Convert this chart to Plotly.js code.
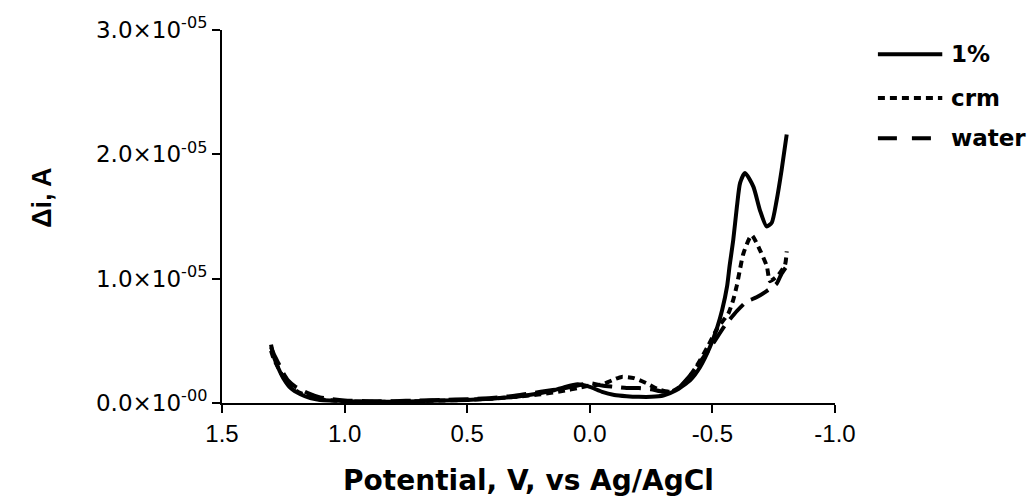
<!DOCTYPE html>
<html>
<head>
<meta charset="utf-8">
<script src="https://cdn.plot.ly/plotly-3.0.1.min.js"></script>
<style>html,body{margin:0;padding:0;background:#fff}#chart{width:1034px;height:497px}</style>
</head>
<body>
<div id="chart"></div>
<script>
// Potential (V vs Ag/AgCl) and current (units of 1e-5 A)
const x1pct = [1.30,1.29,1.27,1.25,1.22,1.18,1.14,1.10,1.05,1.00,0.90,0.80,0.70,0.60,0.50,0.40,0.30,0.20,0.15,0.10,0.05,0.00,-0.05,-0.10,-0.15,-0.20,-0.25,-0.30,-0.35,-0.41,-0.45,-0.49,-0.52,-0.54,-0.56,-0.57,-0.585,-0.60,-0.613,-0.633,-0.667,-0.694,-0.721,-0.742,-0.762,-0.782,-0.803];
const y1pct = [0.47,0.38,0.28,0.20,0.12,0.07,0.04,0.025,0.02,0.015,0.01,0.01,0.015,0.02,0.025,0.035,0.05,0.08,0.10,0.13,0.15,0.13,0.09,0.065,0.055,0.05,0.05,0.06,0.10,0.185,0.29,0.45,0.61,0.75,0.94,1.10,1.31,1.58,1.77,1.85,1.74,1.55,1.42,1.45,1.63,1.87,2.16];

const xCrm = [1.30,1.29,1.27,1.25,1.22,1.18,1.14,1.10,1.05,1.00,0.90,0.80,0.70,0.60,0.50,0.40,0.30,0.20,0.10,0.05,0.00,-0.05,-0.10,-0.13,-0.18,-0.23,-0.28,-0.33,-0.38,-0.43,-0.48,-0.52,-0.565,-0.585,-0.599,-0.612,-0.626,-0.660,-0.694,-0.722,-0.735,-0.769,-0.796,-0.803];
const yCrm = [0.42,0.36,0.28,0.21,0.13,0.08,0.05,0.03,0.02,0.015,0.01,0.01,0.015,0.02,0.025,0.035,0.05,0.07,0.10,0.12,0.14,0.15,0.19,0.21,0.20,0.16,0.11,0.09,0.15,0.28,0.45,0.60,0.72,0.83,0.94,1.07,1.20,1.35,1.23,1.10,0.98,1.03,1.11,1.22];

const xWater = [1.30,1.29,1.27,1.25,1.23,1.20,1.15,1.10,1.05,1.00,0.90,0.80,0.70,0.60,0.50,0.40,0.30,0.20,0.10,0.05,0.00,-0.05,-0.10,-0.15,-0.20,-0.25,-0.30,-0.35,-0.40,-0.45,-0.50,-0.55,-0.60,-0.639,-0.68,-0.721,-0.762,-0.782,-0.803];
const yWater = [0.45,0.40,0.32,0.24,0.18,0.13,0.08,0.045,0.03,0.02,0.015,0.015,0.02,0.025,0.03,0.04,0.06,0.09,0.12,0.14,0.16,0.14,0.13,0.12,0.12,0.11,0.09,0.10,0.20,0.33,0.47,0.62,0.74,0.815,0.85,0.90,0.96,1.04,1.10];

const seriesNames = ["1%", "crm", "water"];
const seriesDash = ["solid", "7px,5px", "20px,9px"];
const legendDash = ["solid", "7px,5px", "19px,15px"];
const yTickVals = [0, 1, 2, 3];
const yTickText = ["0.0×10<sup>-00</sup>", "1.0×10<sup>-05</sup>", "2.0×10<sup>-05</sup>", "3.0×10<sup>-05</sup>"];
const xTickVals = [1.5, 1.0, 0.5, 0.0, -0.5, -1.0];
const xTickText = ["1.5", "1.0", "0.5", "0.0", "-0.5", "-1.0"];
const xTitle = "Potential, V, vs Ag/AgCl";
const yTitle = "Δi, A";

const scale = v => v.map(a => a * 1e-5);
const xs = [x1pct, xCrm, xWater];
const ys = [y1pct, yCrm, yWater];

const traces = seriesNames.map((n, i) => ({
  x: xs[i], y: scale(ys[i]), name: n, mode: "lines", showlegend: false,
  line: {color: "#000", width: 4, dash: seriesDash[i], shape: "spline", smoothing: 0.6}
}));

// manual legend (long line samples as in the reference)
const legY = [0.935, 0.818, 0.71];
const shapes = legY.map((yy, i) => ({
  type: "line", xref: "paper", yref: "paper", x0: 1.070, x1: 1.175, y0: yy, y1: yy,
  line: {color: "#000", width: 4, dash: legendDash[i]}
}));
const annotations = legY.map((yy, i) => ({
  xref: "paper", yref: "paper", x: 1.186, y: yy, xanchor: "left", yanchor: "middle",
  text: seriesNames[i], showarrow: false,
  font: {family: "DejaVu Sans", size: 23, weight: "bold", color: "#000"}
}));
// y-axis title, placed as in the reference (slightly above the plot centre)
annotations.push({
  xref: "paper", yref: "paper", x: 0, xshift: -180, y: 0.55, xanchor: "center", yanchor: "middle",
  textangle: -90, text: yTitle, showarrow: false,
  font: {family: "Liberation Sans", size: 27, weight: "bold", color: "#000"}
});

const layout = {
  width: 1034, height: 497,
  margin: {l: 222, r: 199, t: 30, b: 94},
  paper_bgcolor: "#fff", plot_bgcolor: "#fff",
  font: {family: "Liberation Sans, Arial, sans-serif", color: "#000"},
  showlegend: false,
  shapes: shapes,
  annotations: annotations,
  xaxis: {
    range: [1.5, -1.0], showgrid: false, zeroline: false, showline: true, linecolor: "#000", linewidth: 2,
    ticks: "outside", ticklen: 8, tickwidth: 2, tickcolor: "#000",
    tickvals: xTickVals, ticktext: xTickText, tickfont: {size: 24, family: "Liberation Sans"},
    title: {text: xTitle, font: {size: 28, family: "DejaVu Sans", weight: "bold"}, standoff: 27}
  },
  yaxis: {
    range: [0, 3e-5], showgrid: false, zeroline: false, showline: true, linecolor: "#000", linewidth: 2,
    ticks: "outside", ticklen: 8, tickwidth: 2, tickcolor: "#000",
    tickvals: scale(yTickVals), ticktext: yTickText, tickfont: {size: 23, family: "DejaVu Sans"}
  }
};

Plotly.newPlot("chart", traces, layout, {displayModeBar: false, staticPlot: true});
</script>
</body>
</html>
